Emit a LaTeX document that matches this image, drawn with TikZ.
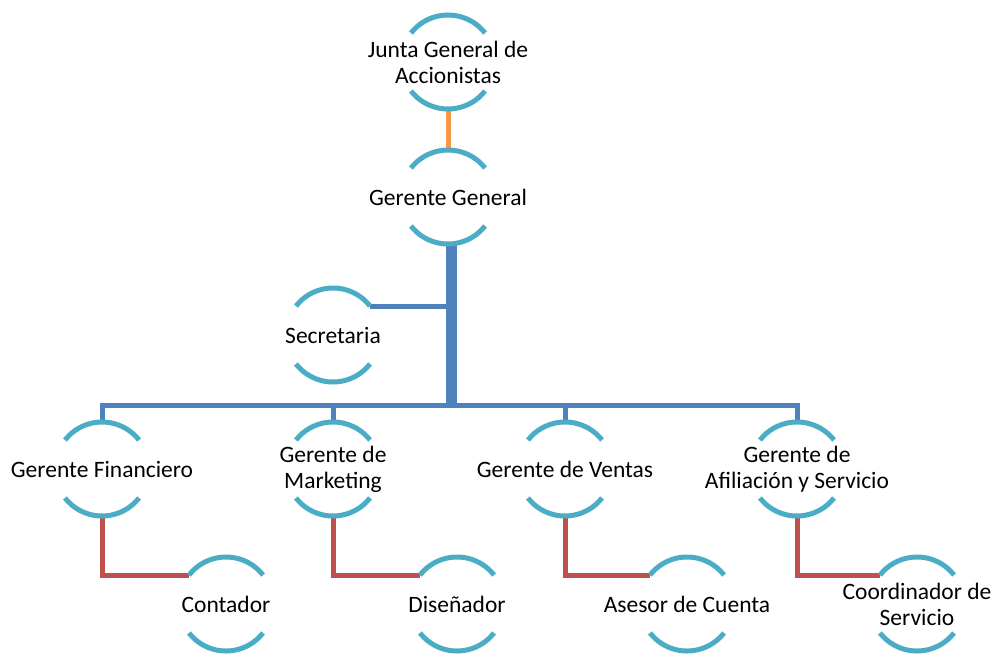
\documentclass[tikz,border=0pt]{standalone}
\usepackage{fontspec}
\setmainfont{Carlito}
\usetikzlibrary{calc}
\definecolor{arcteal}{HTML}{4BACC6}
\definecolor{lnblue}{HTML}{4F81BD}
\definecolor{lnred}{HTML}{C0504D}
\definecolor{lnorange}{HTML}{F79646}
\tikzset{
  txt/.style={align=center, inner sep=0pt, font=\fontsize{23.5}{26}\selectfont},
  arcst/.style={draw=arcteal, line width=5pt},
  bluel/.style={draw=lnblue, line width=5pt},
  bluethick/.style={draw=lnblue, line width=11pt},
  redl/.style={draw=lnred, line width=5pt},
  orangel/.style={draw=lnorange, line width=5pt},
}
\newcommand\orgunit[3]{%
  \node[txt] (#1) at (#2) {#3};
  \draw[arcst] (#1.center) ++(38:47pt) arc[start angle=38, end angle=142, radius=47pt];
  \draw[arcst] (#1.center) ++(218:47pt) arc[start angle=218, end angle=322, radius=47pt];
}
\begin{document}
\begin{tikzpicture}[x=1pt,y=1pt]
\useasboundingbox (0,-653) rectangle (992,0);
% connectors first
\coordinate (bus) at (451,-405);
\coordinate (juntaC) at (448,-62);
\coordinate (ggC) at (448,-197);
\coordinate (secC) at (333,-335);
\coordinate (gfC) at (102,-469);
\coordinate (gmC) at (333,-469);
\coordinate (gvC) at (565,-469);
\coordinate (gaC) at (797,-469);
\coordinate (conC) at (226,-604);
\coordinate (disC) at (457,-604);
\coordinate (aseC) at (687,-604);
\coordinate (cooC) at (917,-604);

\draw[orangel] ($(juntaC)+(0,-47pt)$) -- ($(ggC)+(0,47pt)$);
\draw[bluethick] ($(ggC)+(3pt,-47pt)$) -- (bus);
\path (secC) ++(38:47pt) coordinate (secR);
\draw[bluel] (secR) -- (secR -| bus);
\draw[bluel] ($(gfC)+(0,45pt)$) -- (gfC |- bus) -- (gaC |- bus) -- ($(gaC)+(0,45pt)$);
\draw[bluel] (gmC |- bus) -- ($(gmC)+(0,45pt)$);
\draw[bluel] (gvC |- bus) -- ($(gvC)+(0,45pt)$);

\path (conC) ++(142:47pt) coordinate (conL);
\path (disC) ++(142:47pt) coordinate (disL);
\path (aseC) ++(142:47pt) coordinate (aseL);
\path (cooC) ++(142:47pt) coordinate (cooL);
\draw[redl] ($(gfC)+(0,-47pt)$) |- (conL);
\draw[redl] ($(gmC)+(0,-47pt)$) |- (disL);
\draw[redl] ($(gvC)+(0,-47pt)$) |- (aseL);
\draw[redl] ($(gaC)+(0,-47pt)$) |- (cooL);

% units
\orgunit{junta}{juntaC}{Junta General de\\Accionistas}
\orgunit{gg}{ggC}{Gerente General}
\orgunit{sec}{secC}{Secretaria}
\orgunit{gf}{gfC}{Gerente Financiero}
\orgunit{gm}{gmC}{Gerente de\\Marketing}
\orgunit{gv}{gvC}{Gerente de Ventas}
\orgunit{ga}{gaC}{Gerente de\\Afiliación y Servicio}
\orgunit{con}{conC}{Contador}
\orgunit{dis}{disC}{Diseñador}
\orgunit{ase}{aseC}{Asesor de Cuenta}
\orgunit{coo}{cooC}{Coordinador de\\Servicio}
\end{tikzpicture}
\end{document}
